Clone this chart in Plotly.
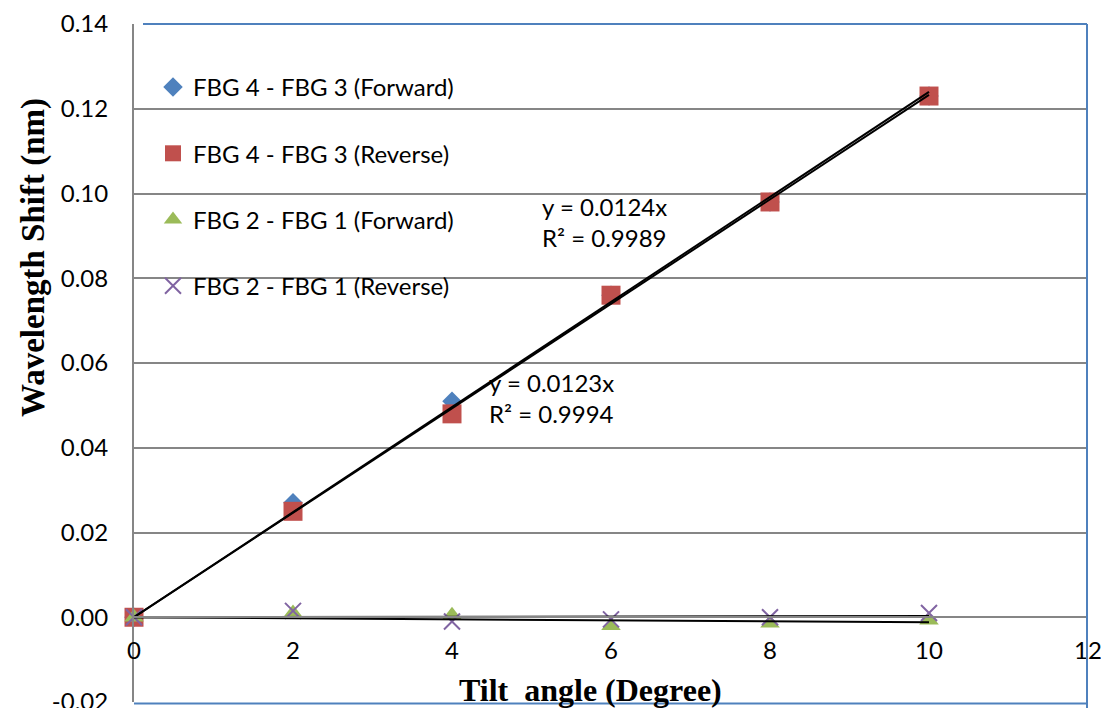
import numpy as np
import plotly.graph_objects as go

# Tilt angle (degrees)
tilt = [0, 2, 4, 6, 8, 10]

# Wavelength shift (nm) for each FBG pair and direction
fbg43_forward = [0.0, 0.027, 0.051, 0.076, 0.098, 0.123]
fbg43_reverse = [0.0, 0.025, 0.048, 0.076, 0.098, 0.123]
fbg21_forward = [0.0, 0.001, 0.0005, -0.002, -0.0014, -0.0007]
fbg21_reverse = [0.0, 0.0015, -0.001, -0.0005, 0.0, 0.001]

series_names = [
    "FBG 4 - FBG 3 (Forward)",
    "FBG 4 - FBG 3 (Reverse)",
    "FBG 2 - FBG 1 (Forward)",
    "FBG 2 - FBG 1 (Reverse)",
]
fit_labels = ["y = 0.0124x<br>R² = 0.9989", "y = 0.0123x<br>R² = 0.9994"]

x_ticks = [0, 2, 4, 6, 8, 10, 12]
y_ticks = [-0.02, 0.0, 0.02, 0.04, 0.06, 0.08, 0.10, 0.12, 0.14]

BLUE = "#4F81BD"
RED = "#C0504D"
GREEN = "#9BBB59"
PURPLE = "#8064A2"
GRID = "#868686"
SANS = "Lato, 'Open Sans', sans-serif"
SERIF = "'Liberation Serif', 'Times New Roman', serif"

series = [fbg43_forward, fbg43_reverse, fbg21_forward, fbg21_reverse]
markers = [
    dict(symbol="diamond", size=15, color=BLUE),
    dict(symbol="square", size=19, color=RED),
    dict(symbol="triangle-up", size=17, color=GREEN),
    dict(symbol="x-thin-open", size=16, color=PURPLE, line=dict(color=PURPLE, width=2)),
]

fig = go.Figure()

for i, (name, ys, mk) in enumerate(zip(series_names, series, markers)):
    fig.add_trace(go.Scatter(
        x=tilt, y=ys, mode="markers", name=name, marker=mk,
        legendgroup=f"g{i}", cliponaxis=False,
    ))

# Linear trendlines forced through the origin (least squares)
xa = np.array(tilt, dtype=float)
for ys in series:
    ya = np.array(ys, dtype=float)
    slope = float(np.sum(xa * ya) / np.sum(xa * xa))
    fig.add_trace(go.Scatter(
        x=[xa[0], xa[-1]], y=[slope * xa[0], slope * xa[-1]],
        mode="lines", line=dict(color="black", width=2),
        showlegend=False, hoverinfo="skip",
    ))

# Pixel helpers for placing text relative to the plot area
L, R, T, B, W, H = 134, 13, 24, 6, 1101, 708
PW, PH = W - L - R, H - T - B


def px_x(px):
    return (px - L) / PW


def px_y(py):
    return (H - B - py) / PH


# Fit equations
for text, xpx, ypx in [(fit_labels[0], 540, 222), (fit_labels[1], 487, 398)]:
    fig.add_annotation(x=px_x(xpx), y=px_y(ypx), xref="paper", yref="paper", text=text,
                       showarrow=False, xanchor="left", yanchor="middle", align="left",
                       font=dict(family=SANS, size=24, color="black"))

# Axis titles
fig.add_annotation(x=px_x(590), y=px_y(690), xref="paper", yref="paper",
                   text="<b>Tilt  angle (Degree)</b>", showarrow=False,
                   xanchor="center", yanchor="middle",
                   font=dict(family=SERIF, size=32, color="black"))
fig.add_annotation(x=px_x(33), y=px_y(258), xref="paper", yref="paper",
                   text="<b>Wavelength Shift (nm)</b>", showarrow=False, textangle=-90,
                   xanchor="center", yanchor="middle",
                   font=dict(family=SERIF, size=33, color="black"))

# Outer frame on top, right and bottom
frame = dict(color=BLUE, width=2)
fig.add_shape(type="line", xref="paper", yref="paper", x0=px_x(143), x1=px_x(1087), y0=1, y1=1, line=frame)
fig.add_shape(type="line", xref="paper", yref="paper", x0=px_x(1087), x1=px_x(1087), y0=px_y(708), y1=1, line=frame)
fig.add_shape(type="line", xref="paper", yref="paper", x0=0, x1=px_x(1087), y0=px_y(703.5), y1=px_y(703.5), line=frame)

fig.update_layout(
    width=W, height=H,
    margin=dict(l=L, r=R, t=T, b=B, autoexpand=False),
    paper_bgcolor="white", plot_bgcolor="white",
    font=dict(family=SANS, size=24, color="black"),
    showlegend=True,
    legend=dict(
        x=px_x(153), y=px_y(65), xanchor="left", yanchor="top",
        bgcolor="rgba(0,0,0,0)", font=dict(family=SANS, size=24, color="black"),
        tracegroupgap=32, itemsizing="trace",
    ),
    xaxis=dict(
        range=[0, 12], tickvals=x_ticks, ticktext=[str(v) for v in x_ticks],
        showgrid=False, zeroline=False, automargin=False,
        showline=True, linecolor=GRID, linewidth=2,
        anchor="free", position=(0 - y_ticks[0]) / (y_ticks[-1] - y_ticks[0]),
        ticks="", ticklabelstandoff=12, ticklabeloverflow="allow",
        tickfont=dict(family=SANS, size=24, color="black"),
    ),
    yaxis=dict(
        range=[y_ticks[0], y_ticks[-1]], tickvals=y_ticks,
        ticktext=[f"{v:.2f}" for v in y_ticks],
        showgrid=True, gridcolor=GRID, gridwidth=1.5, zeroline=False, automargin=False,
        showline=True, linecolor=GRID, linewidth=2,
        ticks="", ticklabelstandoff=19, ticklabeloverflow="allow",
        tickfont=dict(family=SANS, size=24, color="black"),
    ),
)

fig.write_html("out.html")
